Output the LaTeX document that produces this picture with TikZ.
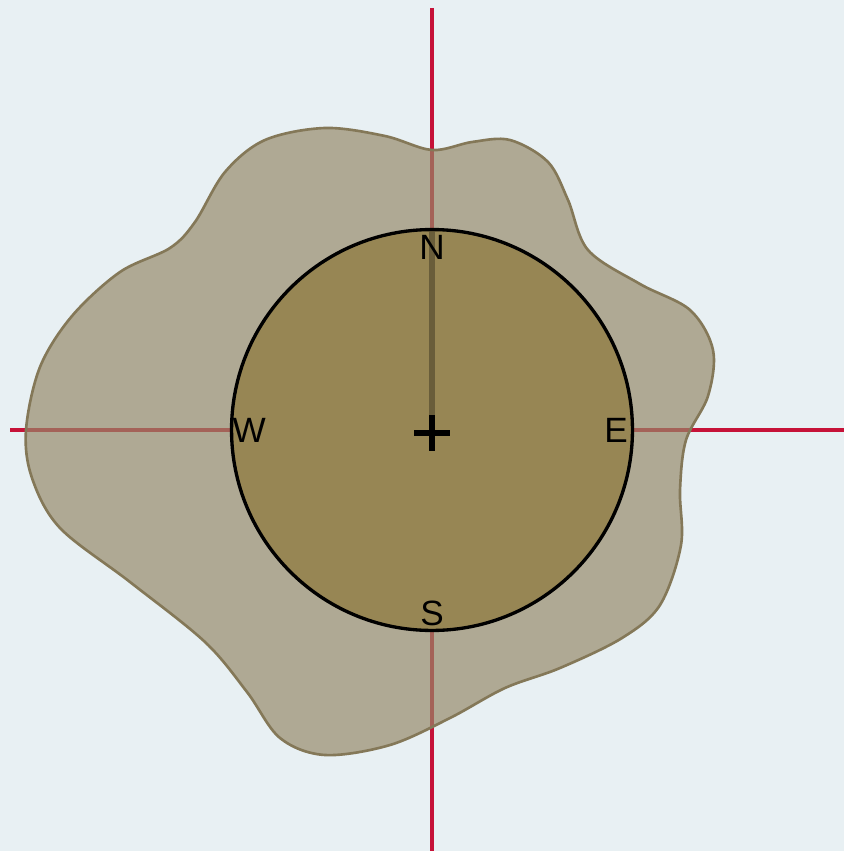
\documentclass[tikz,border=0pt]{standalone}
\usepackage{fontspec}
\setmainfont{Liberation Sans}
\usetikzlibrary{positioning,backgrounds}
\definecolor{paper}{RGB}{232,240,243}
\definecolor{axisred}{RGB}{198,18,56}
\definecolor{blobfill}{RGB}{148,136,104}
\definecolor{blobline}{RGB}{132,120,88}
\definecolor{dialfill}{RGB}{151,134,84}
\pgfdeclarelayer{lines}
\pgfdeclarelayer{blob}
\pgfsetlayers{background,lines,blob,main}

\begin{document}
\begin{tikzpicture}[
x=0.02cm, y=-0.02cm,
axis/.style={draw=axisred,line width=1.8pt},
dial/.style={circle,draw=black,line width=1.9pt,fill=dialfill,minimum size=8.02cm,inner sep=0pt},
blob/.style={draw=blobline,line width=1.5pt,fill=blobfill,fill opacity=0.68},
needle/.style={draw=black,draw opacity=0.3,line width=3pt},
cross/.style={draw=black,line width=3.2pt},
lbl/.style={inner sep=0pt,font=\fontsize{20}{24}\selectfont}
]
\useasboundingbox (0,0) rectangle (844,851);
\begin{scope}[on background layer]
\fill[paper] (0,0) rectangle (844,851);
\end{scope}

% dial
\node[dial] (dial) at (432,430) {};
\coordinate (ntop) at (432,8);
\coordinate (sbot) at (432,851);
\coordinate (wend) at (10,430);
\coordinate (eend) at (844,430);

% axes, under the blob
\begin{pgfonlayer}{lines}
\draw[axis] (ntop) -- (dial.center);
\draw[axis] (dial.south) -- (sbot);
\draw[axis] (wend) -- (dial.west);
\draw[axis] (dial.east) -- (eend);
\end{pgfonlayer}

% blob
\begin{pgfonlayer}{blob}
\draw[blob] plot[smooth cycle,tension=0.55] coordinates {
(325,128) (385,136) (432,150) (472,142) (510,140)
(548,162) (568,200) (588,250) (640,284) (690,310)
(713,350) (708,396) (686,440) (680,490) (681,545)
(660,605) (622,638) (560,668) (505,688) (450,718)
(390,745) (325,755) (280,738) (247,692) (205,642)
(130,582) (60,528) (32,478) (26,430) (40,367)
(72,316) (120,272) (170,248) (195,222) (225,172) (265,140)};
\end{pgfonlayer}

\draw[needle] (dial.north) -- (dial.center);
\draw[cross] ([xshift=-0.36cm,yshift=-0.06cm]dial.center) -- ([xshift=0.36cm,yshift=-0.06cm]dial.center);
\draw[cross] ([yshift=0.3cm]dial.center) -- ([yshift=-0.42cm]dial.center);

\node[lbl,below=1.4mm of dial.north] (north) {N};
\node[lbl,above=1.2mm of dial.south] (south) {S};
\node[lbl,right=0.5mm of dial.west] (west) {W};
\node[lbl,left=1.2mm of dial.east] (east) {E};
\end{tikzpicture}
\end{document}
